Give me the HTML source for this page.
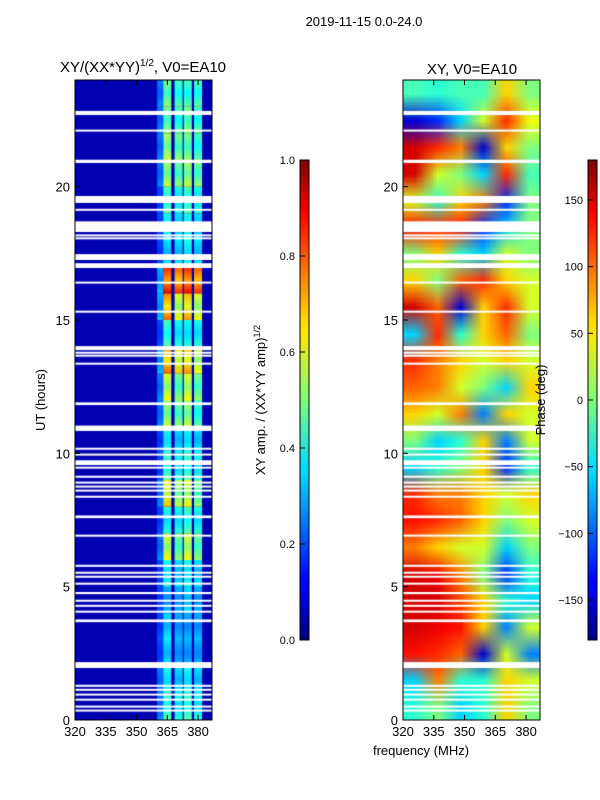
<!DOCTYPE html>
<html><head><meta charset="utf-8"><style>
body{margin:0;background:#fff;width:600px;height:800px;overflow:hidden;font-family:"Liberation Sans","DejaVu Sans",sans-serif;}
svg{position:absolute;left:0;top:0}
canvas{position:absolute}
</style></head><body>
<canvas id="c1" style="left:75px;top:80px;width:137px;height:640px" width="137" height="640"></canvas>
<canvas id="c2" style="left:403px;top:80px;width:137px;height:640px" width="137" height="640"></canvas>
<svg id="s" width="600" height="800">
<defs>
<linearGradient id="jet" x1="0" y1="1" x2="0" y2="0">
<stop offset="0" stop-color="#00007f"/><stop offset="0.11" stop-color="#0000ff"/><stop offset="0.125" stop-color="#0000ff"/><stop offset="0.34" stop-color="#00d4ff"/><stop offset="0.36" stop-color="#0df"/><stop offset="0.5" stop-color="#7cff79"/><stop offset="0.64" stop-color="#ffe600"/><stop offset="0.66" stop-color="#fd0"/><stop offset="0.89" stop-color="#ff0000"/><stop offset="1" stop-color="#7f0000"/>
</linearGradient>
</defs>
<text x="364" y="26" font-size="13" text-anchor="middle">2019-11-15 0.0-24.0</text>
<text x="143" y="72" font-size="15" text-anchor="middle">XY/(XX*YY)<tspan font-size="10" dy="-6">1/2</tspan><tspan dy="6">, V0=EA10</tspan></text>
<text x="472" y="74" font-size="15" text-anchor="middle">XY, V0=EA10</text>
<text x="421" y="755" font-size="13" text-anchor="middle">frequency (MHz)</text>
<text x="45" y="400" font-size="13" text-anchor="middle" transform="rotate(-90 45 400)">UT (hours)</text>
<text x="265" y="400" font-size="13" text-anchor="middle" transform="rotate(-90 265 400)">XY amp. / (XX*YY amp)<tspan font-size="9" dy="-5">1/2</tspan></text>
<text x="545" y="400" font-size="13" text-anchor="middle" transform="rotate(-90 545 400)">Phase (deg)</text>
<rect x="300" y="160" width="9" height="480" fill="url(#jet)" stroke="#000" stroke-width="1"/>
<rect x="588" y="160" width="9" height="480" fill="url(#jet)" stroke="#000" stroke-width="1"/>
<g id="ov"></g>
<rect x="75" y="80" width="137" height="640" fill="none" stroke="#000"/>
<rect x="403" y="80" width="137" height="640" fill="none" stroke="#000"/>
</svg>
<script>
const xTicks=[320,335,350,365,380];
const yTicks=[0,5,10,15,20];
const ampTicks=[0,0.2,0.4,0.6,0.8,1.0];
const phaseTicks=[-150,-100,-50,0,50,100,150];
const gapStarts=[22.69,22.09,20.89,19.39,19.12,18.30,18.16,18.05,17.25,16.95,16.39,15.30,13.87,13.76,13.65,13.35,11.81,10.84,10.16,9.94,9.56,9.45,9.11,8.89,8.74,8.59,8.36,7.57,6.90,5.77,5.51,5.36,5.10,4.72,4.46,4.27,4.05,3.67,1.95,1.27,1.12,0.94,0.75,0.49,0.34];
const gapDur=[0.15,0.05,0.12,0.26,0.05,0.4,0.05,0.05,0.22,0.18,0.05,0.05,0.15,0.05,0.05,0.05,0.1,0.2,0.05,0.05,0.18,0.05,0.05,0.05,0.05,0.05,0.05,0.1,0.05,0.05,0.05,0.05,0.05,0.08,0.05,0.05,0.05,0.1,0.22,0.05,0.05,0.05,0.05,0.05,0.05];
const ampBandFreq=[361.5,365,370.5,375,380];
const ampByHour=[
[0.25,0.45,0.4,0.45,0.4],[0.25,0.4,0.35,0.4,0.35],[0.2,0.35,0.3,0.3,0.3],[0.2,0.35,0.3,0.3,0.3],
[0.2,0.3,0.3,0.35,0.3],[0.2,0.4,0.35,0.4,0.35],[0.25,0.6,0.5,0.6,0.5],[0.2,0.4,0.4,0.45,0.4],
[0.25,0.65,0.55,0.6,0.5],[0.2,0.45,0.4,0.45,0.4],[0.2,0.4,0.35,0.4,0.35],[0.25,0.55,0.5,0.55,0.45],
[0.25,0.6,0.5,0.6,0.5],[0.3,0.75,0.65,0.7,0.6],[0.2,0.45,0.4,0.4,0.4],[0.3,0.75,0.6,0.7,0.6],
[0.3,0.85,0.8,0.85,0.8],[0.2,0.35,0.35,0.4,0.35],[0.2,0.4,0.35,0.4,0.35],[0.2,0.45,0.4,0.45,0.4],
[0.25,0.55,0.5,0.55,0.5],[0.25,0.55,0.5,0.5,0.45],[0.25,0.5,0.45,0.5,0.45],[0.25,0.5,0.45,0.45,0.45]];
const ampBackground=0.05;
const phaseFreq=[322,335,347,359,371,383];
const phaseByHour=[
[-30,0,-60,-30,60,0],[-60,90,-30,-30,60,30],[130,120,100,-150,30,-90],[150,140,130,60,-90,30],
[150,150,110,60,-30,-60],[150,140,90,0,-120,-30],[90,60,30,30,-60,0],[130,120,100,60,0,30],
[120,90,90,60,30,60],[-60,-30,0,60,-120,-30],[0,-60,-30,60,-90,30],[60,30,90,-90,60,30],
[100,90,30,0,-60,60],[120,90,60,30,60,30],[-60,120,-30,60,100,0],[150,100,-150,60,120,30],
[60,0,100,120,60,30],[0,60,-30,-60,30,0],[130,120,130,-120,-60,0],[30,-30,60,90,-120,0],
[150,30,0,-60,120,-20],[150,120,90,-150,60,0],[-150,-120,-60,30,120,40],[-20,-30,-20,-20,60,0]];

const X0=320,X1=386.8,PW=137,PH=640;
function xs(f){return (f-X0)/(X1-X0)*PW;}
function ys(h){return PH-h/24*PH;}
function jet(v){v=Math.max(0,Math.min(1,v));
 const r=Math.max(0,Math.min(1,1.5-Math.abs(4*v-3))),g=Math.max(0,Math.min(1,1.5-Math.abs(4*v-2))),b=Math.max(0,Math.min(1,1.5-Math.abs(4*v-1)));
 return `rgb(${r*255|0},${g*255|0},${b*255|0})`;}
const c1=document.getElementById('c1').getContext('2d');
c1.fillStyle=jet(ampBackground);c1.fillRect(0,0,PW,PH);
ampByHour.forEach((row,h)=>{row.forEach((v,i)=>{
 const w=i==0?6:8;const x=xs(ampBandFreq[i])-w/2;
 const g=c1.createLinearGradient(0,ys(h+1),0,ys(h));
 g.addColorStop(0,jet(v));g.addColorStop(0.5,jet(v*0.85));g.addColorStop(1,jet(v*1.05));
 c1.fillStyle=g;c1.fillRect(x,ys(h+1),w,ys(h)-ys(h+1));});});
const c2=document.getElementById('c2').getContext('2d');
const sm=document.createElement('canvas');sm.width=phaseFreq.length;sm.height=phaseByHour.length;
const sx=sm.getContext('2d');
phaseByHour.forEach((row,h)=>row.forEach((v,i)=>{sx.fillStyle=jet((v+180)/360);sx.fillRect(i,phaseByHour.length-1-h,1,1);}));
c2.imageSmoothingEnabled=true;c2.drawImage(sm,0,0,PW,PH);
[c1,c2].forEach(c=>{c.fillStyle='#fff';gapStarts.forEach((s,i)=>{c.fillRect(0,ys(s+gapDur[i]),PW,Math.max(2,ys(s)-ys(s+gapDur[i])));});});
const ov=document.getElementById('ov');const NS='http://www.w3.org/2000/svg';
function el(t,a,txt){const e=document.createElementNS(NS,t);for(const k in a)e.setAttribute(k,a[k]);if(txt!==undefined)e.textContent=txt;ov.appendChild(e);return e;}
[75,403].forEach(L=>{
 xTicks.forEach(f=>{const x=L+xs(f);
  const t=el('line',{x1:x,x2:x,y1:720,y2:715,stroke:'#000'});
  const t2=el('line',{x1:x,x2:x,y1:80,y2:85,stroke:'#000'});
  const l=el('text',{x:x,y:736,'font-size':13,'text-anchor':'middle'},f);});
 yTicks.forEach(h=>{const y=80+ys(h);
  const t=el('line',{x1:L,x2:L+5,y1:y,y2:y,stroke:'#000'});
  const l=el('text',{x:L-5,y:y+5,'font-size':13,'text-anchor':'end'},h);});
});
ampTicks.forEach(v=>{const y=640-v*480;
 const t=el('line',{x1:300,x2:305,y1:y,y2:y,stroke:'#000'});
 const l=el('text',{x:295,y:y+4,'font-size':11,'text-anchor':'end'},v.toFixed(1));});
phaseTicks.forEach(v=>{const y=400-v/360*480;
 const t=el('line',{x1:588,x2:593,y1:y,y2:y,stroke:'#000'});
 const l=el('text',{x:583,y:y+4,'font-size':11,'text-anchor':'end'},v<0?'\u2212'+(-v):v);});
</script>
</body></html>
